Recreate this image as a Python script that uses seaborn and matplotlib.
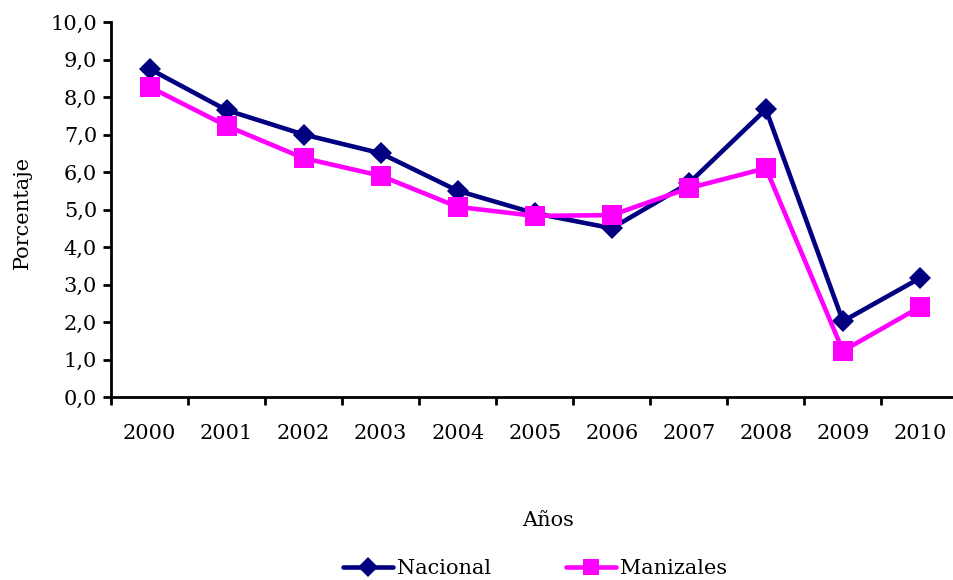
import matplotlib
matplotlib.use("Agg")
import matplotlib.pyplot as plt
import seaborn as sns
import pandas as pd
from matplotlib.lines import Line2D

years = ["2000", "2001", "2002", "2003", "2004", "2005", "2006", "2007", "2008", "2009", "2010"]
nacional = [8.75, 7.65, 7.0, 6.5, 5.5, 4.9, 4.5, 5.7, 7.67, 2.02, 3.17]
manizales = [8.27, 7.23, 6.37, 5.9, 5.07, 4.83, 4.85, 5.57, 6.1, 1.23, 2.4]
series_names = ["Nacional", "Manizales"]
colors = ["#000080", "#FF00FF"]
y_ticks = [0, 1, 2, 3, 4, 5, 6, 7, 8, 9, 10]

sns.set_theme(style="white")
plt.rcParams["font.family"] = ["DejaVu Serif"]
plt.rcParams["text.color"] = "black"
plt.rcParams["xtick.color"] = "black"
plt.rcParams["ytick.color"] = "black"

FS = 15

df = pd.DataFrame({
    "Año": years * 2,
    "Valor": nacional + manizales,
    "Serie": [series_names[0]] * len(years) + [series_names[1]] * len(years),
})
df["x"] = list(range(len(years))) * 2

fig = plt.figure(figsize=(9.54, 5.8), dpi=100)
ax = fig.add_axes([111 / 954, 1 - 397 / 580, (958.5 - 111) / 954, (397 - 22) / 580])

sns.lineplot(data=df, x="x", y="Valor", hue="Serie", style="Serie",
             palette=colors, markers=["D", "s"], dashes=False,
             linewidth=3.3, markersize=11, markeredgewidth=0, ax=ax, legend=False)
for ln in ax.lines:
    if ln.get_marker() == "s":
        ln.set_markersize(14.5)
    else:
        ln.set_markersize(11)

ax.set_xlim(-0.5, len(years) - 0.5)
ax.set_ylim(0, 10)
ax.set_yticks(y_ticks)
ax.set_yticklabels([f"{v:.1f}".replace(".", ",") for v in y_ticks], fontsize=FS)
ax.set_xticks([i - 0.5 for i in range(len(years) + 1)])
ax.set_xticklabels([])
for i, y in enumerate(years):
    ax.text(i, -0.72, y, ha="center", va="top", fontsize=FS, transform=ax.transData)
ax.tick_params(axis="y", direction="out", length=6, width=2, color="black", left=True, pad=4)
ax.tick_params(axis="x", direction="out", length=6, width=2, color="black", bottom=True)
for s in ["top", "right"]:
    ax.spines[s].set_visible(False)
for s in ["left", "bottom"]:
    ax.spines[s].set_color("black")
    ax.spines[s].set_linewidth(2)
ax.set_xlabel("")
ax.set_ylabel("")

fig.text(22 / 954, 1 - 212 / 580, "Porcentaje", rotation=90, ha="center", va="center", fontsize=FS)
fig.text(548 / 954, 1 - 520 / 580, "Años", ha="center", va="center", fontsize=FS)

handles = [
    Line2D([], [], color=colors[0], marker="D", linewidth=3.3, markersize=10, markeredgewidth=0),
    Line2D([], [], color=colors[1], marker="s", linewidth=3.3, markersize=12, markeredgewidth=0),
]
fig.legend(handles, series_names, loc="center", bbox_to_anchor=(535 / 954, 1 - 569 / 580),
           ncol=2, frameon=False, fontsize=FS, handlelength=2.4, handletextpad=0.2,
           columnspacing=3.6, borderpad=0)

fig.savefig("out.png", dpi=100)
